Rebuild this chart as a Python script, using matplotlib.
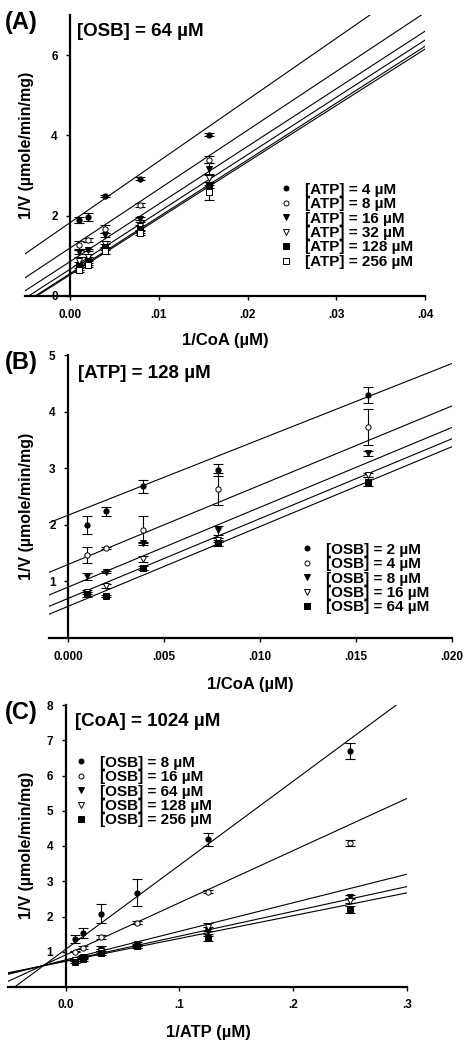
import numpy as np
import matplotlib
matplotlib.use('Agg')
import matplotlib.pyplot as plt

plt.rcParams['font.family'] = ['Liberation Sans', 'DejaVu Sans']
plt.rcParams['font.weight'] = 'bold'

# ---- panel A : 1/V vs 1/CoA, [OSB] = 64 uM ----
a_x = [1/1024, 1/512, 1/256, 1/128, 1/64]
a_labels = ['[ATP] = 4 µM', '[ATP] = 8 µM', '[ATP] = 16 µM',
            '[ATP] = 32 µM', '[ATP] = 128 µM', '[ATP] = 256 µM']
a_y = [[1.90, 1.97, 2.49, 2.92, 4.02],
       [1.27, 1.39, 1.68, 2.27, 3.40],
       [1.09, 1.15, 1.52, 1.93, 3.17],
       [0.86, 0.96, 1.30, 1.75, 2.95],
       [0.75, 0.88, 1.22, 1.68, 2.77],
       [0.65, 0.77, 1.12, 1.57, 2.58]]
a_err = [[0.07, 0.10, 0.02, 0.04, 0.03],
         [0.10, 0.05, 0.10, 0.05, 0.08],
         [0.05, 0.03, 0.05, 0.03, 0.15],
         [0.10, 0.08, 0.08, 0.10, 0.10],
         [0.10, 0.10, 0.08, 0.10, 0.08],
         [0.05, 0.05, 0.08, 0.06, 0.18]]
a_slope = [153, 146.5, 143.4, 142.6, 141.5, 140.5]
a_icpt = [1.83, 1.20, 0.86, 0.67, 0.56, 0.53]

# ---- panel B : 1/V vs 1/CoA, [ATP] = 128 uM ----
b_x = [1/1024, 1/512, 1/256, 1/128, 1/64]
b_labels = ['[OSB] = 2 µM', '[OSB] = 4 µM', '[OSB] = 8 µM',
            '[OSB] = 16 µM', '[OSB] = 64 µM']
b_y = [[2.00, 2.24, 2.68, 2.97, 4.29],
       [1.47, 1.59, 1.91, 2.63, 3.73],
       [1.09, 1.16, 1.67, 1.90, 3.26],
       [0.81, 0.92, 1.40, 1.73, 2.88],
       [0.77, 0.74, 1.24, 1.68, 2.76]]
b_err = [[0.16, 0.08, 0.11, 0.10, 0.14],
         [0.14, 0.02, 0.24, 0.28, 0.32],
         [0.06, 0.02, 0.02, 0.08, 0.04],
         [0.04, 0.04, 0.05, 0.04, 0.03],
         [0.04, 0.02, 0.03, 0.05, 0.08]]
b_slope = [134, 140, 141, 141, 141]
b_icpt = [2.17, 1.30, 0.90, 0.70, 0.56]

# ---- panel C : 1/V vs 1/ATP, [CoA] = 1024 uM ----
c_x = [1/128, 1/64, 1/32, 1/16, 1/8, 1/4]
c_labels = ['[OSB] = 8 µM', '[OSB] = 16 µM', '[OSB] = 64 µM',
            '[OSB] = 128 µM', '[OSB] = 256 µM']
c_y = [[1.36, 1.52, 2.08, 2.68, 4.19, 6.70],
       [1.00, 1.12, 1.42, 1.82, 2.70, 4.09],
       [0.76, 0.86, 1.09, 1.22, 1.60, 2.56],
       [0.76, 0.82, 1.02, 1.17, 1.70, 2.45],
       [0.72, 0.80, 0.97, 1.15, 1.38, 2.20]]
c_err = [[0.12, 0.14, 0.27, 0.39, 0.18, 0.23],
         [0.02, 0.03, 0.05, 0.04, 0.04, 0.08],
         [0.03, 0.04, 0.08, 0.06, 0.10, 0.06],
         [0.03, 0.03, 0.06, 0.05, 0.12, 0.07],
         [0.03, 0.05, 0.05, 0.05, 0.08, 0.10]]
c_slope = [23.85, 14.8, 8.1, 7.03, 6.47]
c_icpt = [1.07, 0.91, 0.77, 0.74, 0.73]

styles = [('o', 'black'), ('o', 'white'), ('v', 'black'),
          ('v', 'white'), ('s', 'black'), ('s', 'white')]

W, H = 468, 1050
fig = plt.figure(figsize=(W/100, H/100), dpi=100)


def px_axes(l, r, t, b):
    return fig.add_axes([l/W, 1-b/H, (r-l)/W, (b-t)/H])


def panel(ax, xs, ys, errs, slopes, icpts, labels, xlim, ylim,
          xticks, xticklabels, yticks, leg_anchor):
    xx = np.array(xlim)
    for s, c in zip(slopes, icpts):
        ax.plot(xx, c + s*xx, color='black', lw=0.8, zorder=2)
    for i in range(len(ys)):
        m, fc = styles[i]
        ax.errorbar(xs, ys[i], yerr=errs[i], fmt='none', ecolor='black',
                    elinewidth=0.8, capsize=3.5, capthick=0.8, zorder=3)
        ax.plot(xs, ys[i], ls='none', marker=m, ms=3.8, mfc=fc, mec='black',
                mew=0.7, label=labels[i], zorder=4)
    ax.set_xlim(xlim)
    ax.set_ylim(ylim)
    ax.spines['top'].set_visible(False)
    ax.spines['right'].set_visible(False)
    ax.spines['left'].set_position(('data', 0))
    ax.spines['left'].set_linewidth(1.6)
    ax.spines['bottom'].set_linewidth(1.6)
    ax.set_xticks(xticks)
    ax.set_xticklabels(xticklabels)
    ax.set_yticks(yticks)
    ax.set_yticklabels([str(v) for v in yticks])
    ax.tick_params(direction='out', length=3, width=1, labelsize=8.5, pad=6)
    for t in ax.get_xticklabels() + ax.get_yticklabels():
        t.set_fontweight('bold')
    ax.patch.set_alpha(0)
    ax.legend(loc='upper left', bbox_to_anchor=(leg_anchor[0]/W, 1-leg_anchor[1]/H),
              bbox_transform=fig.transFigure, frameon=False,
              handlelength=1.0, handletextpad=0.7, labelspacing=0.03,
              borderpad=0, numpoints=1, markerscale=0.95,
              prop={'weight': 'bold', 'size': 11})


axA = px_axes(25, 425, 15, 296)
panel(axA, a_x, a_y, a_err, a_slope, a_icpt, a_labels, (-0.0051, 0.04), (0, 7),
      [0, .01, .02, .03, .04], ['0.00', '.01', '.02', '.03', '.04'],
      [0, 2, 4, 6], (271, 175))

axB = px_axes(49, 452, 355, 638)
panel(axB, b_x, b_y, b_err, b_slope, b_icpt, b_labels, (-0.001, 0.020), (0, 5),
      [0, .005, .010, .015, .020], ['0.000', '.005', '.010', '.015', '.020'],
      [1, 2, 3, 4, 5], (292, 535))

axC = px_axes(8, 407, 705, 987)
panel(axC, c_x, c_y, c_err, c_slope, c_icpt, c_labels, (-0.0507, 0.3), (0, 8),
      [0, .1, .2, .3], ['0.0', '.1', '.2', '.3'],
      [1, 2, 3, 4, 5, 6, 7, 8], (66, 748))

# panel letters, conditions and axis titles
for lab, y in [('(A)', 23), ('(B)', 363), ('(C)', 712)]:
    fig.text(5/W, 1-y/H, lab, fontsize=17, fontweight='bold', va='center')
for txt, x, y in [('[OSB] = 64 µM', 77, 32), ('[ATP] = 128 µM', 78, 374),
                  ('[CoA] = 1024 µM', 75, 721)]:
    fig.text(x/W, 1-y/H, txt, fontsize=13.5, fontweight='bold', va='center')
for txt, x, y in [('1/CoA (µM)', 225, 340), ('1/CoA (µM)', 250, 685),
                  ('1/ATP (µM)', 208, 1032)]:
    fig.text(x/W, 1-y/H, txt, fontsize=12, fontweight='bold', ha='center', va='center')
for y in [145, 506, 845]:
    fig.text(26/W, 1-y/H, '1/V (µmole/min/mg)', fontsize=11.5, fontweight='bold',
             rotation=90, ha='center', va='center')

fig.savefig('out.png', dpi=100)
